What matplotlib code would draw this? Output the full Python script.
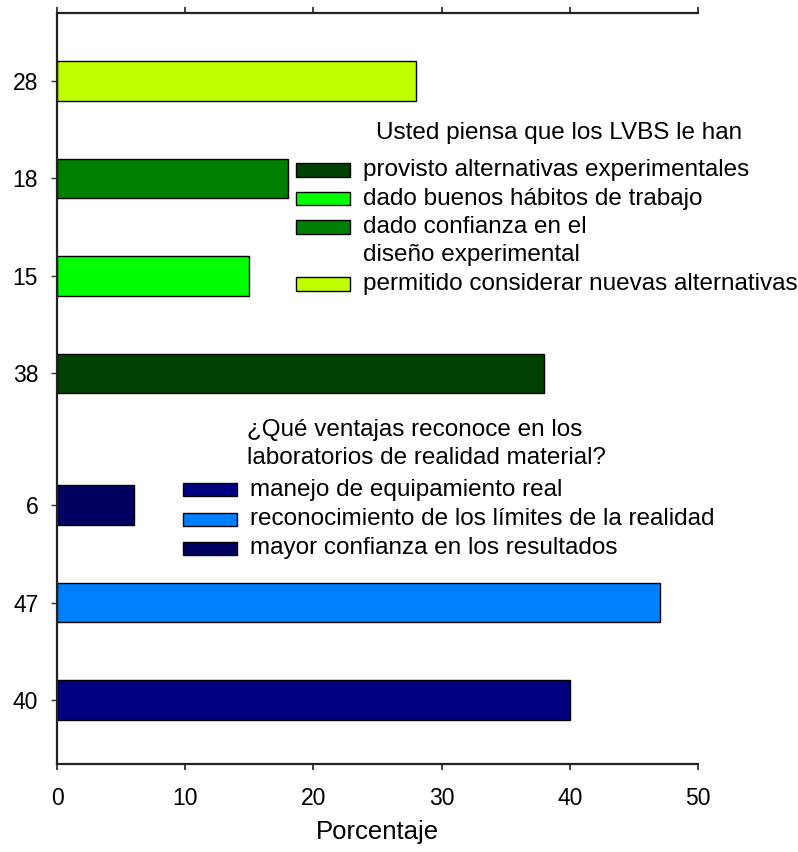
import matplotlib.pyplot as plt
from matplotlib.patches import Rectangle

# bars listed bottom to top
values = [40, 47, 6, 38, 15, 18, 28]
tick_labels = ['40', '47', '6', '38', '15', '18', '28']
bar_colors = ['#000080', '#0080ff', '#000060', '#004000', '#00ff00', '#008000', '#bfff00']

legend1_title = 'Usted piensa que los LVBS le han'
legend1_labels = ['provisto alternativas experimentales',
                  'dado buenos hábitos de trabajo',
                  'dado confianza en el\ndiseño experimental',
                  'permitido considerar nuevas alternativas']
legend1_colors = ['#004000', '#00ff00', '#008000', '#bfff00']

legend2_title = '¿Qué ventajas reconoce en los\nlaboratorios de realidad material?'
legend2_labels = ['manejo de equipamiento real',
                  'reconocimiento de los límites de la realidad',
                  'mayor confianza en los resultados']
legend2_colors = ['#000080', '#0080ff', '#000060']

# layout: the two groups are separated by a wider gap
positions = [1, 2, 3, 4.35, 5.35, 6.35, 7.35]

plt.rcParams['font.family'] = ['Liberation Sans', 'DejaVu Sans']

W, H = 798, 852
fig = plt.figure(figsize=(W / 100, H / 100), dpi=100)
ax = fig.add_axes([57 / W, 1 - 764 / H, 641 / W, 750.5 / H])

ax.barh(positions, values, height=0.405, color=bar_colors,
        edgecolor='black', linewidth=1.0)

ax.set_xlim(0, 50)
ax.set_ylim(0.344, 8.041)
ax.set_xticks([0, 10, 20, 30, 40, 50])
ax.set_yticks(positions)
ax.set_yticklabels(tick_labels)

ax.spines['right'].set_visible(False)
for s in ['left', 'top', 'bottom']:
    ax.spines[s].set_linewidth(1.6)
    ax.spines[s].set_color('#222222')

ax.tick_params(axis='x', which='both', direction='out', length=4.5, width=1.3,
               top=True, labeltop=False, labelsize=16.5, pad=12, color='#333333')
ax.tick_params(axis='y', direction='out', length=4.5, width=1.0,
               labelsize=16.5, pad=9, color='#333333')
ax.set_xlabel('Porcentaje', fontsize=18.5, labelpad=7)

FS = 17.5


def px_legend(title, labels, colors, title_x, title_y, patch_x, text_x, y0, step):
    """Draw a legend in figure pixel coordinates (y from top)."""
    fig.text(title_x / W, 1 - title_y / H, title, fontsize=FS,
             ha='left', va='center', linespacing=1.3)
    y = y0
    for lab, col in zip(labels, colors):
        fig.patches.append(Rectangle((patch_x / W, 1 - (y + 6.5) / H), 54 / W, 13 / H,
                                     transform=fig.transFigure, facecolor=col,
                                     edgecolor='black', linewidth=1.0))
        lines = lab.split('\n')
        fig.text(text_x / W, 1 - y / H, lines[0], fontsize=FS,
                 ha='left', va='center')
        for line in lines[1:]:
            y += step
            fig.text(text_x / W, 1 - y / H, line, fontsize=FS,
                     ha='left', va='center')
        y += step


px_legend(legend1_title, legend1_labels, legend1_colors,
          376, 133, 296, 363, 170, 28.5)
px_legend(legend2_title, legend2_labels, legend2_colors,
          247, 444, 183, 250, 490, 29)

fig.savefig('out.png', dpi=100)
